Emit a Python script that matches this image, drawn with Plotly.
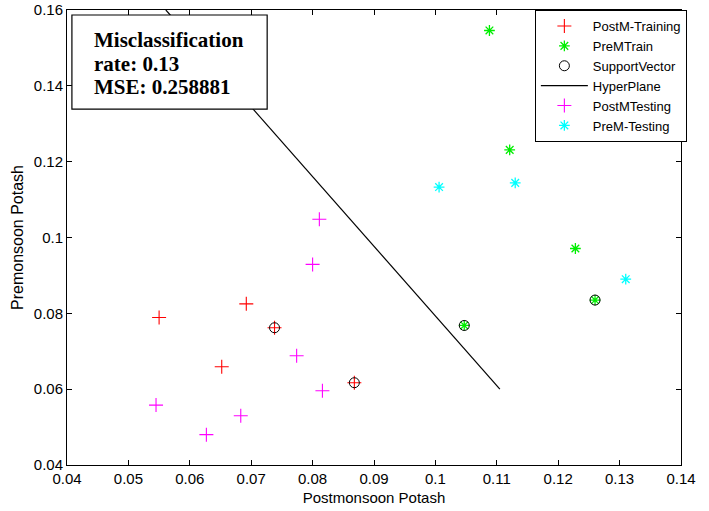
import plotly.graph_objects as go

# Postmonsoon / premonsoon potash samples
postm_train_x = [0.0550, 0.0692, 0.0652, 0.0738, 0.0868]
postm_train_y = [0.0789, 0.0825, 0.0659, 0.0762, 0.0617]

prem_train_x = [0.1088, 0.1121, 0.1228, 0.1047, 0.1260]
prem_train_y = [0.1546, 0.1231, 0.0971, 0.0768, 0.0835]

support_x = [0.0738, 0.0868, 0.1047, 0.1260]
support_y = [0.0762, 0.0617, 0.0768, 0.0835]

hyper_x = [0.0561, 0.1105]
hyper_y = [0.1600, 0.0600]

postm_test_x = [0.0545, 0.0627, 0.0683, 0.0774, 0.0816, 0.0800, 0.0811]
postm_test_y = [0.0558, 0.0480, 0.0530, 0.0688, 0.0596, 0.0929, 0.1048]

prem_test_x = [0.1006, 0.1130, 0.1310]
prem_test_y = [0.1133, 0.1144, 0.0890]

x_ticks = [0.04, 0.05, 0.06, 0.07, 0.08, 0.09, 0.10, 0.11, 0.12, 0.13, 0.14]
x_tick_text = ["0.04", "0.05", "0.06", "0.07", "0.08", "0.09", "0.1", "0.11", "0.12", "0.13", "0.14"]
y_ticks = [0.04, 0.06, 0.08, 0.10, 0.12, 0.14, 0.16]
y_tick_text = ["0.04", "0.06", "0.08", "0.1", "0.12", "0.14", "0.16"]

stats_lines = ["Misclassification", "rate: 0.13", "MSE: 0.258881"]

narrow = "Liberation Sans Narrow, Arial Narrow, Liberation Sans, Arial, sans-serif"
serif = "Liberation Serif, Times New Roman, serif"

fig = go.Figure()
fig.add_trace(go.Scatter(
    x=postm_train_x, y=postm_train_y, mode="markers", name="PostM-Training",
    marker=dict(symbol="cross-thin", size=10, line=dict(color="#ff0000", width=1.1))))
fig.add_trace(go.Scatter(
    x=prem_train_x, y=prem_train_y, mode="markers", name="PreMTrain",
    marker=dict(symbol="asterisk", size=9, line=dict(color="#00ee00", width=1.3))))
fig.add_trace(go.Scatter(
    x=support_x, y=support_y, mode="markers", name="SupportVector",
    marker=dict(symbol="circle-open", size=10, color="#000000", line=dict(color="#000000", width=1))))
fig.add_trace(go.Scatter(
    x=hyper_x, y=hyper_y, mode="lines", name="HyperPlane",
    line=dict(color="#000000", width=1.2)))
fig.add_trace(go.Scatter(
    x=postm_test_x, y=postm_test_y, mode="markers", name="PostMTesting",
    marker=dict(symbol="cross-thin", size=10, line=dict(color="#ff00ff", width=1.1))))
fig.add_trace(go.Scatter(
    x=prem_test_x, y=prem_test_y, mode="markers", name="PreM-Testing",
    marker=dict(symbol="asterisk", size=9, line=dict(color="#00ffff", width=1.3))))

axis_common = dict(
    showgrid=False, zeroline=False, showline=True, linecolor="#000000", linewidth=1,
    mirror="ticks", ticks="inside", ticklen=5, tickcolor="#000000", automargin=False,
    tickfont=dict(family=narrow, size=15, color="#000000"),
)

# Summary box text, one annotation per line for tight spacing
line_y = [0.934, 0.881, 0.831]
annotations = [
    dict(text="<b>%s</b>" % t, xref="paper", yref="paper", x=0.041, y=yy,
         xanchor="left", yanchor="middle", showarrow=False,
         font=dict(family=serif, size=21, color="#000000"))
    for t, yy in zip(stats_lines, line_y)
]

fig.update_layout(
    width=709, height=511,
    margin=dict(l=67, r=28, t=10, b=46),
    paper_bgcolor="#ffffff", plot_bgcolor="#ffffff",
    xaxis=dict(range=[0.04, 0.14], tickvals=x_ticks, ticktext=x_tick_text,
               title=dict(text="Postmonsoon Potash", standoff=6,
                          font=dict(family=narrow, size=15, color="#000000")),
               **axis_common),
    yaxis=dict(range=[0.04, 0.16], tickvals=y_ticks, ticktext=y_tick_text,
               title=dict(text="Premonsoon Potash", standoff=6,
                          font=dict(family=narrow, size=16, color="#000000")),
               **axis_common),
    legend=dict(x=0.762, y=1.0, xanchor="left", yanchor="top",
                bgcolor="#ffffff", bordercolor="#000000", borderwidth=1,
                font=dict(family=narrow, size=13, color="#000000"),
                itemwidth=47),
    shapes=[dict(type="rect", xref="paper", yref="paper",
                 x0=0.008, x1=0.326, y0=0.782, y1=0.989,
                 fillcolor="#ffffff", line=dict(color="#000000", width=1.2),
                 layer="above")],
    annotations=annotations,
)

fig.write_html("out.html")
